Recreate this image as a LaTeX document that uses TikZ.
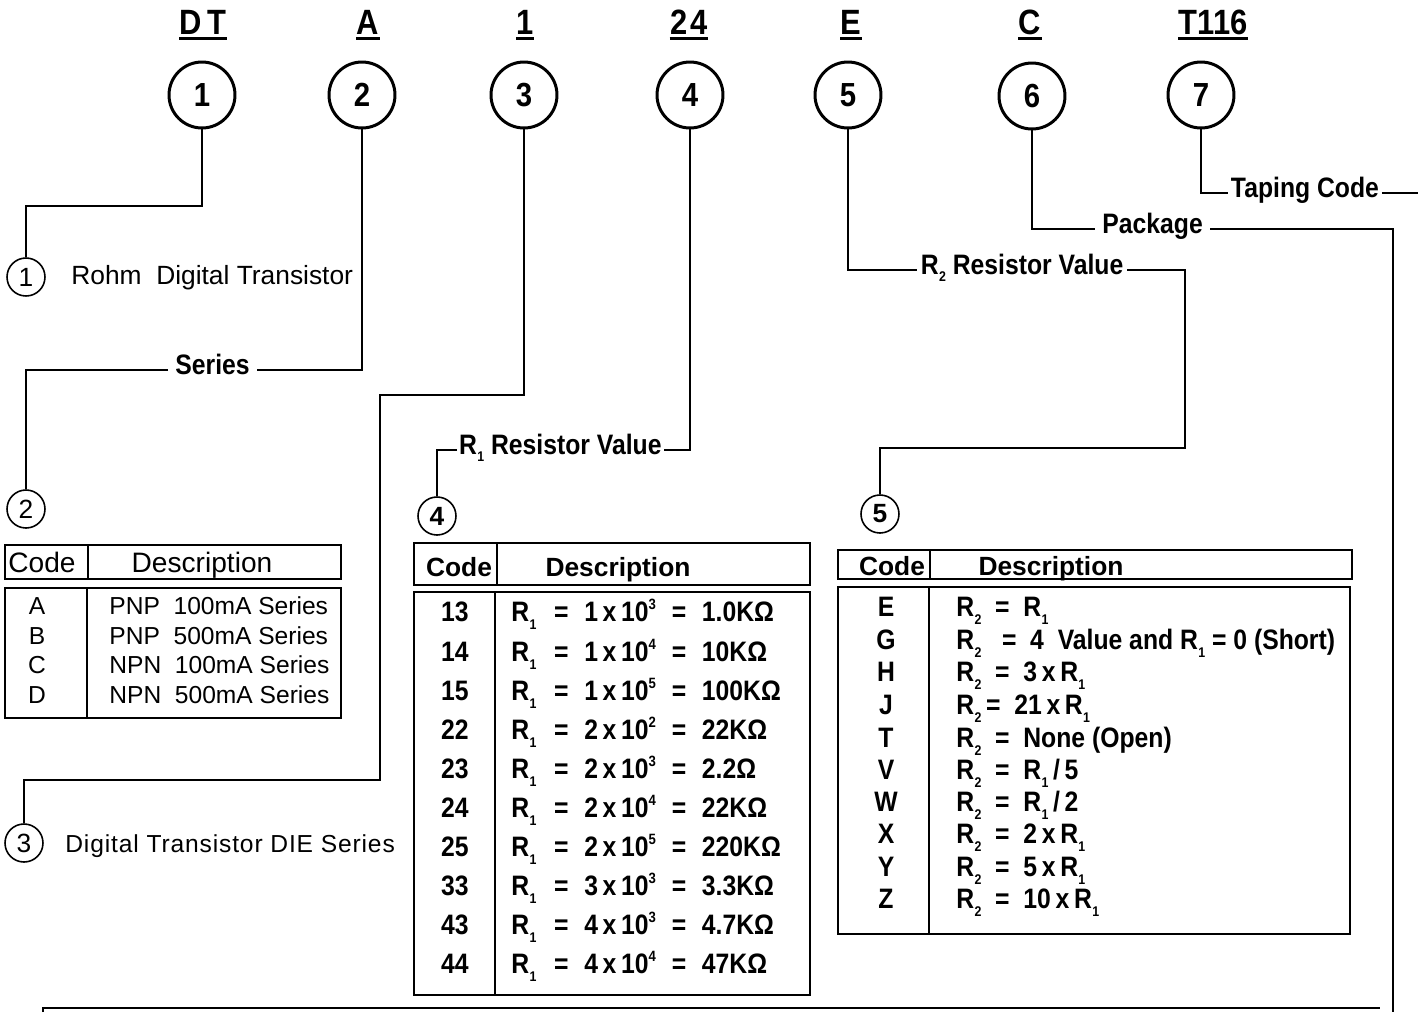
\documentclass[tikz,border=0pt]{standalone}
\usepackage{fontspec}
\setmainfont{Liberation Sans}
\newfontfamily\condfont[FakeStretch=0.88]{Liberation Sans}
\usepackage{tikz}
\newcommand{\Rs}[1]{R\kern.2pt\raisebox{-.5ex}{\fontsize{8}{8}\selectfont #1}}
\newcommand{\Sp}[1]{\raisebox{.8ex}{\fontsize{8.5}{9}\selectfont #1}}
\newcommand{\rone}[3]{\rlap{\Rs{1}}\hspace*{28.5pt}\makebox[0pt]{=}\hspace*{13pt}\rlap{#1\,x\,10\Sp{#2}}\hspace*{54pt}\makebox[0pt]{=}\hspace*{13pt}#3}

\begin{document}
\begin{tikzpicture}[x=0.02cm, y=-0.02cm,
    bigcirc/.style={circle, draw, line width=1.7pt, minimum size=1.32cm, inner sep=0pt,
        font=\condfont\bfseries\fontsize{19}{21}\selectfont},
    smallcirc/.style={circle, draw, line width=0.9pt, minimum size=0.76cm, inner sep=0pt,
        font=\fontsize{15}{17}\selectfont},
    hdr/.style={anchor=base, inner xsep=0pt, inner ysep=2.5pt, text depth=0pt,
        font=\condfont\bfseries\fontsize{20}{22}\selectfont},
    lbl/.style={anchor=west, inner xsep=2pt, inner ysep=0pt, text height=7.5pt, text depth=2.5pt,
        font=\condfont\bfseries\fontsize{16}{18}\selectfont},
    note/.style={anchor=west, inner sep=0pt, text height=10.7pt, text depth=0.5pt,
        font=\fontsize{15}{17}\selectfont},
    thd/.style={inner sep=0pt, text height=12pt, text depth=0.5pt, font=\fontsize{16}{18}\selectfont},
    bthd/.style={inner sep=0pt, text height=11.3pt, text depth=0.5pt, font=\bfseries\fontsize{15}{17}\selectfont},
    tcode/.style={inner sep=0pt, text height=10.5pt, text depth=0.5pt, font=\fontsize{14}{16}\selectfont},
    ttext/.style={tcode, anchor=west},
    bcode/.style={inner sep=0pt, text height=11.5pt, text depth=0.5pt, font=\condfont\bfseries\fontsize{16}{18}\selectfont},
    btext/.style={bcode, anchor=west},
    wire/.style={line width=1.1pt},
    tbl/.style={line width=1.2pt}]
    \useasboundingbox (0,0) rectangle (1418,1012);

    % Part number
    \node[hdr] (h1) at (203,34) {D\kern3pt T};
    \node[hdr] (h2) at (368,34) {A};
    \node[hdr] (h3) at (525,34) {1};
    \node[hdr] (h4) at (689,34) {2\kern2pt 4};
    \node[hdr] (h5) at (851,34) {E};
    \node[hdr] (h6) at (1030,34) {C};
    \node[hdr] (h7) at (1213,34) {T116};
    \draw[line width=1.6pt] (h1.south west) -- (h1.south east) (h2.south west) -- (h2.south east)
        (h3.south west) -- (h3.south east) (h4.south west) -- (h4.south east)
        (h5.south west) -- (h5.south east) (h6.south west) -- (h6.south east)
        (h7.south west) -- (h7.south east);

    \node[bigcirc] (c1) at (202,95) {1};
    \node[bigcirc] (c2) at (362,95) {2};
    \node[bigcirc] (c3) at (524,95) {3};
    \node[bigcirc] (c4) at (690,95) {4};
    \node[bigcirc] (c5) at (848,95) {5};
    \node[bigcirc] (c6) at (1032,96) {6};
    \node[bigcirc] (c7) at (1201,95) {7};

    % Small markers
    \node[smallcirc] (s1) at (26,277) {1};
    \node[smallcirc] (s2) at (26,509) {2};
    \node[smallcirc] (s3) at (24,843) {3};
    \node[smallcirc, font=\bfseries\fontsize{15}{17}\selectfont] (s4) at (437,516) {4};
    \node[smallcirc, font=\bfseries\fontsize{15}{17}\selectfont] (s5) at (880,514) {5};

    \node[note] (rohm) at (71,276) {Rohm\ \ Digital Transistor};
    \node[note, font=\addfontfeature{LetterSpace=3.5}\fontsize{14}{16}\selectfont] (die) at (65,844) {Digital Transistor DIE Series};

    % Labels
    \node[lbl, inner xsep=4pt] (ser) at (168,370) {Series};
    \node[lbl, inner xsep=1pt] (r1v) at (457,450) {\Rs{1} Resistor Value};
    \node[lbl] (r2v) at (917,270) {\Rs{2} Resistor Value};
    \node[lbl, inner xsep=4pt] (pkg) at (1095,229) {Package};
    \node[lbl, inner xsep=1.5pt] (tap) at (1228,193) {Taping Code};

    % Leaders
    \coordinate (k1) at (26,206);
    \draw[wire] (c1.south) |- (k1) -- (s1.north);
    \draw[wire] (c2.south) |- (ser.east);
    \draw[wire] (ser.west) -| (s2.north);
    \coordinate (k3a) at (380,395);
    \coordinate (k3b) at (24,780);
    \draw[wire] (c3.south) |- (k3a) |- (k3b) -- (s3.north);
    \draw[wire] (c4.south) |- (r1v.east);
    \draw[wire] (r1v.west) -| (s4.north);
    \draw[wire] (c5.south) |- (r2v.west);
    \coordinate (k5) at (1185,448);
    \draw[wire] (r2v.east) -| (k5) -| (s5.north);
    \coordinate (k6) at (1393,1012);
    \draw[wire] (c6.south) |- (pkg.west);
    \draw[wire] (pkg.east) -| (k6);
    \coordinate (k7) at (1418,193);
    \draw[wire] (c7.south) |- (tap.west);
    \draw[wire] (tap.east) -- (k7);
    \coordinate (kb1) at (43,1012);
    \coordinate (kb2) at (1380,1008);
    \draw[wire] (kb1) |- (kb2);

    % Table 2
    \draw[tbl] (5,545) rectangle (341,579) (88,545) -- (88,579);
    \draw[tbl] (5,588) rectangle (341,718) (87,588) -- (87,718);
    \node[thd] (t2code) at (42,562) {Code};
    \node[thd] (t2desc) at (202,562) {Description};
    \node[tcode] (t2a) at (37,606) {A};
    \node[tcode] (t2b) at (37,636) {B};
    \node[tcode] (t2c) at (37,665) {C};
    \node[tcode] (t2d) at (37,695) {D};
    \node[ttext] (t2da) at (109,606) {PNP\ \ 100mA Series};
    \node[ttext] (t2db) at (109,636) {PNP\ \ 500mA Series};
    \node[ttext] (t2dc) at (109,665) {NPN\ \ 100mA Series};
    \node[ttext] (t2dd) at (109,695) {NPN\ \ 500mA Series};

    % Table 4
    \draw[tbl, line width=1.5pt] (414,543) rectangle (810,585) (497,543) -- (497,585);
    \draw[tbl] (414,592) rectangle (810,995) (495,592) -- (495,995);
    \node[bthd] (t4code) at (459,567) {Code};
    \node[bthd] (t4desc) at (618,567) {Description};
    \node[bcode] (t4r1) at (455,612) {13};
    \node[bcode] (t4r2) at (455,652) {14};
    \node[bcode] (t4r3) at (455,691) {15};
    \node[bcode] (t4r4) at (455,730) {22};
    \node[bcode] (t4r5) at (455,769) {23};
    \node[bcode] (t4r6) at (455,808) {24};
    \node[bcode] (t4r7) at (455,847) {25};
    \node[bcode] (t4r8) at (455,886) {33};
    \node[bcode] (t4r9) at (455,925) {43};
    \node[bcode] (t4r10) at (455,964) {44};
    \node[btext] (t4d1) at (511,612) {\rone{1}{3}{1.0KΩ}};
    \node[btext] (t4d2) at (511,652) {\rone{1}{4}{10KΩ}};
    \node[btext] (t4d3) at (511,691) {\rone{1}{5}{100KΩ}};
    \node[btext] (t4d4) at (511,730) {\rone{2}{2}{22KΩ}};
    \node[btext] (t4d5) at (511,769) {\rone{2}{3}{2.2Ω}};
    \node[btext] (t4d6) at (511,808) {\rone{2}{4}{22KΩ}};
    \node[btext] (t4d7) at (511,847) {\rone{2}{5}{220KΩ}};
    \node[btext] (t4d8) at (511,886) {\rone{3}{3}{3.3KΩ}};
    \node[btext] (t4d9) at (511,925) {\rone{4}{3}{4.7KΩ}};
    \node[btext] (t4d10) at (511,964) {\rone{4}{4}{47KΩ}};

    % Table 5
    \draw[tbl] (838,550) rectangle (1352,579) (930,550) -- (930,579);
    \draw[tbl] (838,587) rectangle (1350,934) (929,587) -- (929,934);
    \node[bthd] (t5code) at (892,566) {Code};
    \node[bthd] (t5desc) at (1051,566) {Description};
    \node[bcode] (t5e) at (886,607) {E};
    \node[bcode] (t5g) at (886,640) {G};
    \node[bcode] (t5h) at (886,672) {H};
    \node[bcode] (t5j) at (886,705) {J};
    \node[bcode] (t5t) at (886,738) {T};
    \node[bcode] (t5v) at (886,770) {V};
    \node[bcode] (t5w) at (886,802) {W};
    \node[bcode] (t5x) at (886,834) {X};
    \node[bcode] (t5y) at (886,867) {Y};
    \node[bcode] (t5z) at (886,899) {Z};
    \node[btext] (t5de) at (956,607) {\Rs{2}\ \ =\ \ \Rs{1}};
    \node[btext] (t5dg) at (956,640) {\Rs{2}\ \ \ =\ \ 4\ \ Value and \Rs{1} = 0 (Short)};
    \node[btext] (t5dh) at (956,672) {\Rs{2}\ \ =\ \ 3\,x\,\Rs{1}};
    \node[btext] (t5dj) at (956,705) {\Rs{2}\,=\ \ 21\,x\,\Rs{1}};
    \node[btext] (t5dt) at (956,738) {\Rs{2}\ \ =\ \ None (Open)};
    \node[btext] (t5dv) at (956,770) {\Rs{2}\ \ =\ \ \Rs{1}\,/\,5};
    \node[btext] (t5dw) at (956,802) {\Rs{2}\ \ =\ \ \Rs{1}\,/\,2};
    \node[btext] (t5dx) at (956,834) {\Rs{2}\ \ =\ \ 2\,x\,\Rs{1}};
    \node[btext] (t5dy) at (956,867) {\Rs{2}\ \ =\ \ 5\,x\,\Rs{1}};
    \node[btext] (t5dz) at (956,899) {\Rs{2}\ \ =\ \ 10\,x\,\Rs{1}};
\end{tikzpicture}
\end{document}
